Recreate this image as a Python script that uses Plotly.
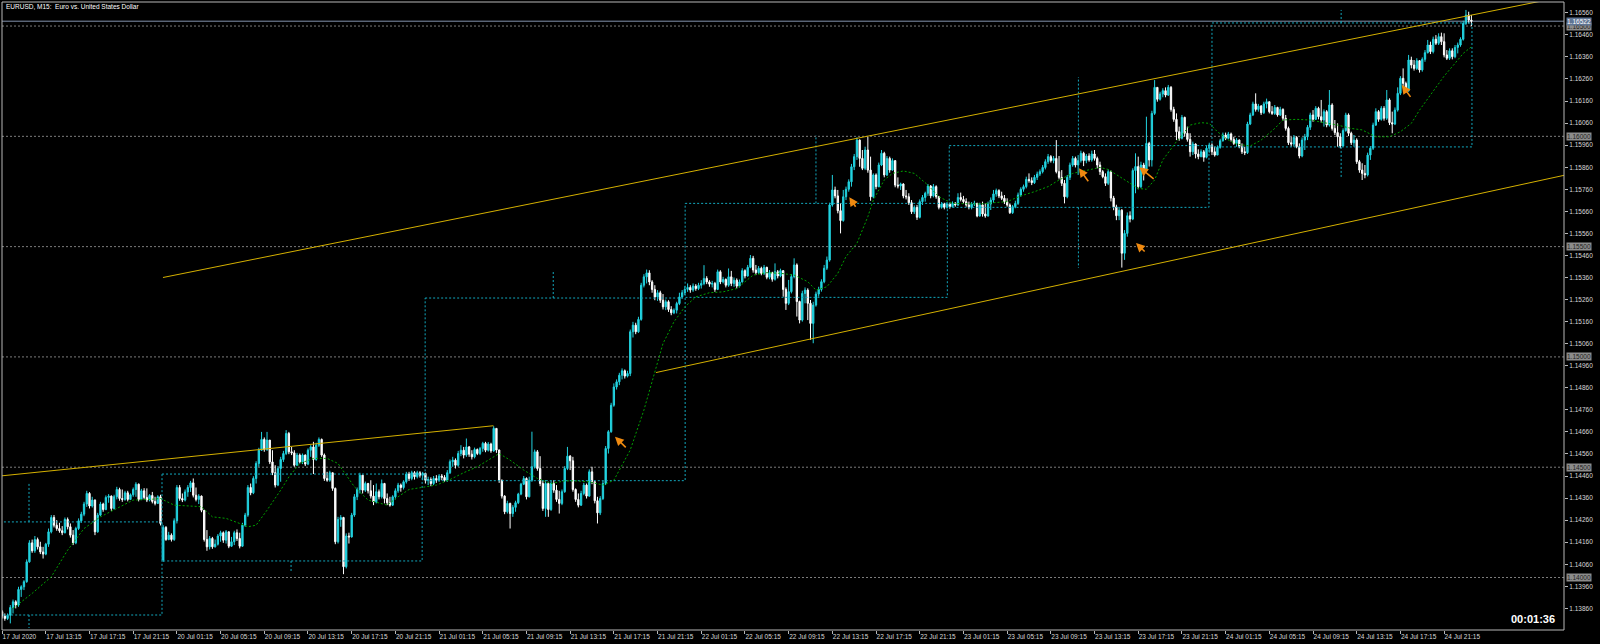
import plotly.graph_objects as go

symbol_title = "EURUSD, M15:  Euro vs. United States Dollar"
timer_text = "00:01:36"

# Prices are stored in points (0.00001) above 1.10000; one entry per M15 bar,
# bar 0 = 17 Jul 2020 09:15, last bar = 24 Jul 23:45.
first_open_pts = 3845
gap_open_pts = {59: 4079}   # Monday open gap

close_pts = [
 3825,3814,3829,3864,3890,3875,3946,3958,3981,4071,4157,4121,4172,4139,4116,4106,4151,4207,4272,4237,
 4222,4212,4203,4263,4230,4192,4157,4222,4257,4287,4333,4381,4324,4351,4207,4283,4333,4308,4363,4369,
 4313,4366,4399,4358,4354,4384,4354,4375,4399,4423,4354,4393,4363,4351,4372,4345,4336,4366,4245,4227,
 4172,4192,4172,4257,4408,4358,4351,4388,4408,4429,4373,4354,4369,4305,4172,4139,4177,4139,4151,4188,
 4203,4169,4207,4142,4162,4203,4177,4142,4237,4283,4408,4384,4449,4517,4577,4626,4580,4623,4524,4475,
 4419,4494,4535,4562,4653,4570,4565,4509,4555,4524,4555,4514,4577,4592,4535,4600,4626,4555,4449,4441,
 4475,4404,4162,4263,4272,4049,4188,4184,4283,4366,4399,4464,4396,4426,4393,4369,4343,4389,4366,4426,
 4358,4339,4328,4366,4393,4419,4408,4434,4469,4449,4475,4457,4475,4464,4472,4441,4444,4426,4449,4441,
 4460,4454,4441,4475,4525,4532,4509,4562,4577,4555,4592,4559,4547,4580,4562,4585,4608,4577,4605,4574,
 4676,4578,4441,4369,4298,4336,4290,4318,4339,4378,4423,4449,4366,4441,4502,4570,4494,4426,4313,4426,
 4308,4426,4396,4354,4336,4389,4494,4550,4529,4399,4354,4328,4381,4419,4369,4479,4434,4348,4293,4358,
 4426,4585,4661,4781,4864,4887,4917,4937,4913,4925,5114,5144,5114,5170,5325,5363,5381,5340,5306,5272,
 5291,5257,5227,5250,5215,5200,5212,5242,5272,5291,5306,5315,5303,5321,5310,5325,5333,5356,5340,5330,
 5333,5306,5386,5340,5351,5325,5363,5333,5348,5321,5340,5391,5367,5406,5447,5394,5382,5402,5379,5406,
 5361,5382,5352,5386,5367,5391,5306,5243,5296,5364,5417,5251,5167,5288,5303,5243,5152,5235,5285,5306,
 5341,5402,5439,5689,5757,5730,5663,5618,5726,5760,5794,5862,5908,5983,5900,5855,5938,5847,5726,5825,
 5772,5870,5923,5825,5900,5847,5890,5779,5775,5784,5730,5726,5699,5658,5678,5633,5704,5723,5742,5775,
 5730,5772,5726,5678,5693,5678,5693,5681,5696,5689,5723,5714,5704,5689,5678,5693,5696,5639,5689,5648,
 5639,5693,5711,5739,5754,5730,5719,5704,5689,5654,5681,5696,5734,5760,5772,5805,5799,5790,5814,5829,
 5840,5859,5885,5908,5890,5900,5840,5814,5787,5726,5814,5870,5900,5870,5890,5923,5890,5911,5893,5920,
 5900,5870,5840,5817,5787,5840,5720,5680,5640,5665,5470,5560,5640,5625,5845,5863,5772,5870,5845,5968,
 5893,6104,6222,6168,6192,6207,6187,6222,6122,6077,6021,5991,6086,6014,5986,5930,5965,5920,5908,5930,
 5905,5946,5961,5930,5915,5950,5980,6006,5991,6011,5986,5968,5983,5953,5930,5926,6056,6097,6147,6122,
 6137,6107,6147,6157,6112,6104,6131,6097,6122,6082,6036,5971,5965,5995,5953,5911,5983,5998,6041,6097,
 6077,6127,6089,6074,6112,6051,6142,6036,6017,5998,5956,6026,6097,6014,5971,5983,5885,5847,5832,5825,
 5915,5946,6051,6112,6077,6127,6082,6165,6062,6056,6119,6195,6263,6240,6207,6346,6323,6308,6343,6301,
 6349,6379,6414,6384,6440,6422,6452,6429,6369,6354,6388,6361,6403,6414,6440,6512,6550,6527,6522]

high_pts = [
 3852,3837,3837,3875,3900,3897,3958,3965,3988,4082,4169,4172,4188,4181,4162,4139,4157,4222,4283,4283,
 4260,4248,4233,4272,4272,4245,4215,4230,4268,4298,4343,4393,4387,4366,4354,4293,4343,4339,4372,4378,
 4372,4375,4411,4407,4399,4393,4393,4381,4408,4432,4426,4402,4405,4404,4378,4388,4366,4373,4375,4237,
 4233,4207,4200,4268,4419,4419,4381,4399,4419,4438,4449,4408,4378,4372,4305,4215,4188,4184,4172,4197,
 4212,4209,4215,4209,4184,4212,4218,4203,4248,4293,4419,4426,4459,4527,4588,4660,4635,4660,4623,4577,
 4509,4505,4547,4574,4668,4660,4592,4577,4565,4562,4562,4558,4585,4600,4615,4611,4635,4630,4562,4479,
 4484,4469,4408,4275,4283,4275,4200,4203,4293,4378,4408,4475,4456,4435,4429,4441,4419,4426,4399,4444,
 4429,4381,4366,4373,4404,4429,4426,4441,4479,4479,4484,4482,4484,4482,4479,4475,4457,4454,4460,4464,
 4469,4469,4464,4487,4535,4547,4540,4574,4600,4592,4630,4596,4577,4589,4585,4592,4615,4615,4614,4611,
 4686,4676,4580,4444,4373,4348,4339,4328,4348,4384,4429,4460,4454,4457,4661,4580,4578,4550,4438,4441,
 4434,4438,4441,4419,4393,4399,4505,4592,4555,4547,4404,4381,4393,4429,4426,4490,4502,4438,4366,4369,
 4438,4596,4668,4792,4880,4898,4928,4948,4943,4937,5124,5159,5155,5182,5336,5375,5396,5393,5348,5325,
 5303,5300,5285,5260,5257,5230,5220,5250,5291,5303,5321,5333,5325,5333,5330,5336,5348,5416,5366,5348,
 5345,5340,5396,5393,5363,5356,5401,5390,5360,5356,5351,5402,5397,5417,5462,5458,5417,5412,5409,5417,
 5409,5394,5386,5424,5394,5400,5394,5315,5349,5376,5447,5424,5255,5300,5315,5311,5258,5250,5296,5318,
 5352,5417,5455,5699,5825,5772,5757,5696,5757,5772,5805,5875,5920,5995,5986,5938,5953,5998,5908,5832,
 5832,5881,5938,5930,5911,5908,5900,5890,5814,5790,5787,5757,5742,5711,5687,5689,5714,5734,5749,5784,
 5779,5784,5778,5730,5702,5699,5702,5699,5705,5702,5742,5745,5730,5719,5704,5702,5708,5699,5699,5704,
 5696,5704,5723,5757,5763,5760,5749,5734,5719,5696,5689,5708,5745,5769,5781,5817,5832,5814,5825,5840,
 5850,5870,5896,5920,5915,5911,5983,5911,5847,5802,5825,5881,5911,5908,5915,5935,5930,5920,5923,5935,
 5938,5908,5885,5847,5832,5850,5845,5730,5690,5680,5670,5575,5655,5660,5855,5923,5908,5885,5880,6089,
 5975,6116,6255,6222,6202,6218,6222,6233,6228,6134,6104,6044,6097,6089,6044,6014,5976,5968,5941,5941,
 5938,5956,5971,5968,5953,5959,5989,6017,6017,6020,6017,5998,5992,5986,5968,5953,6066,6107,6157,6195,
 6147,6142,6157,6171,6157,6137,6142,6134,6134,6127,6097,6044,5998,6006,6001,5968,5995,6011,6051,6107,
 6119,6137,6134,6165,6122,6119,6210,6150,6074,6059,6014,6036,6107,6104,6021,6006,5991,5893,5878,5870,
 5926,5956,6062,6127,6119,6137,6137,6210,6172,6112,6131,6222,6273,6308,6248,6369,6361,6346,6354,6346,
 6358,6391,6437,6429,6452,6459,6467,6470,6467,6391,6399,6399,6414,6425,6449,6524,6573,6565,6550]

low_pts = [
 3814,3804,3807,3792,3837,3860,3867,3912,3943,3976,4067,4112,4112,4127,4106,4086,4101,4139,4200,4227,
 4212,4203,4192,4200,4218,4181,4147,4151,4215,4248,4278,4320,4313,4317,4192,4203,4278,4298,4305,4339,
 4302,4308,4354,4348,4343,4348,4345,4351,4366,4366,4345,4351,4354,4342,4345,4336,4327,4333,4236,4071,
 4166,4169,4163,4166,4245,4348,4342,4345,4366,4388,4363,4345,4333,4296,4163,4121,4127,4130,4136,4145,
 4162,4157,4154,4133,4139,4147,4166,4132,4139,4230,4275,4373,4378,4426,4502,4574,4570,4574,4514,4464,
 4408,4414,4434,4524,4555,4559,4555,4502,4505,4517,4514,4505,4509,4547,4469,4529,4592,4547,4438,4434,
 4434,4393,4151,4154,4230,4015,4041,4154,4181,4275,4351,4381,4381,4388,4381,4358,4328,4336,4354,4358,
 4336,4328,4321,4324,4354,4384,4389,4399,4426,4438,4441,4444,4449,4453,4441,4426,4419,4414,4419,4429,
 4434,4441,4434,4434,4469,4502,4494,4502,4550,4540,4547,4547,4535,4540,4555,4555,4570,4568,4571,4565,
 4570,4565,4429,4358,4287,4290,4222,4275,4298,4333,4373,4419,4354,4363,4434,4494,4484,4414,4302,4275,
 4275,4302,4384,4343,4290,4328,4384,4487,4487,4389,4343,4318,4324,4373,4358,4366,4423,4336,4245,4283,
 4351,4419,4562,4656,4774,4852,4872,4898,4902,4907,4913,5088,5103,5109,5164,5315,5333,5325,5291,5257,
 5254,5245,5215,5212,5204,5189,5194,5197,5235,5265,5280,5295,5291,5295,5300,5303,5310,5325,5330,5318,
 5315,5295,5303,5330,5333,5315,5318,5321,5318,5310,5315,5337,5356,5364,5402,5382,5371,5376,5370,5371,
 5352,5352,5341,5346,5356,5361,5273,5213,5235,5288,5356,5183,5152,5160,5243,5167,5077,5062,5228,5273,
 5296,5334,5394,5432,5681,5719,5651,5560,5613,5711,5749,5772,5847,5893,5862,5847,5847,5835,5708,5719,
 5760,5769,5865,5814,5820,5835,5844,5769,5764,5757,5719,5714,5689,5648,5648,5621,5628,5689,5704,5730,
 5719,5723,5717,5669,5672,5669,5672,5672,5678,5681,5684,5705,5696,5681,5669,5669,5684,5633,5636,5636,
 5631,5636,5666,5699,5726,5720,5711,5693,5681,5648,5648,5674,5689,5726,5749,5764,5790,5779,5784,5802,
 5820,5832,5850,5875,5881,5878,5832,5805,5775,5696,5719,5802,5862,5859,5825,5881,5865,5878,5885,5885,
 5890,5855,5825,5810,5775,5779,5705,5665,5620,5620,5405,5440,5545,5610,5620,5742,5760,5765,5800,5840,
 5863,5863,6097,6157,6162,6177,6177,6183,6112,6066,5983,5980,5986,5998,5976,5908,5915,5900,5896,5905,
 5885,5900,5926,5915,5908,5915,5944,5976,5983,5986,5976,5961,5953,5946,5920,5915,5920,6051,6092,6112,
 6112,6097,6101,6127,6104,6097,6097,6089,6092,6071,6026,5961,5953,5953,5946,5900,5905,5938,5983,6029,
 6066,6074,6077,6062,6044,6041,6044,6026,6006,5953,5946,5953,6021,6001,5961,5953,5875,5835,5802,5810,
 5818,5893,5938,6047,6066,6071,6071,6074,6051,6014,6051,6112,6187,6228,6198,6202,6308,6298,6301,6289,
 6293,6338,6376,6373,6376,6414,6414,6414,6358,6346,6346,6349,6354,6376,6406,6434,6505,6512,6500]

# moving average (green dotted), read at sample bars
ma_bars = [4,11,18,24,30,36,42,48,54,58,63,68,73,77,82,87,90,93,97,102,
           105,109,114,119,123,129,134,141,145,149,154,159,164,169,174,179,182,186,191,196,
           201,206,210,215,220,224,230,235,239,242,246,250,254,259,264,269,275,280,285,290,
           295,298,302,306,309,313,317,319,323,326,330,334,339,343,348,353,358,363,368,373,
           378,383,387,392,397,402,405,411,416,419,422,425,430,435,439,442,445,449,452,457,
           461,466,469,474,479,484,489,494,498,503,508,512,516,519,523,528,532,535,538]
ma_pts = [3860,3928,4003,4124,4222,4275,4313,4351,4354,4358,4328,4324,4321,4275,4268,4245,4230,4237,4305,4396,
          4456,4517,4540,4540,4517,4411,4351,4328,4366,4399,4408,4419,4444,4475,4502,4540,4562,4532,4487,4449,
          4426,4438,4438,4434,4419,4441,4578,4759,4925,5061,5159,5227,5272,5291,5295,5310,5371,5382,5379,5371,
          5341,5303,5318,5379,5455,5515,5636,5711,5802,5832,5843,5832,5779,5726,5696,5693,5693,5699,5704,5730,
          5749,5772,5802,5832,5847,5859,5850,5802,5764,5760,5802,5893,5976,6051,6062,6059,6021,5983,5965,5956,
          5983,6036,6074,6077,6074,6062,6051,6036,6029,5998,5998,6021,6059,6119,6187,6273,6331,6376,6406]

# daily range boxes (cyan dotted)
box_start = [-0.8, 58.55, 154.9, 250.1, 346.8, 443.0]
box_end = [58.55, 153.8, 250.1, 346.1, 441.9, 538.2]
box_top = [1.14252, 1.14469, 1.15267, 1.15696, 1.15958, 1.16514]
box_bottom = [1.13830, 1.14075, 1.14439, 1.15270, 1.15678, 1.15952]
tick_bar = [9.85, 9.85, 105.8, 201.8, 298.0, 394.1, 394.1, 490.3, 490.3]
tick_from = [1.14252, 1.13830, 1.14075, 1.15267, 1.15696, 1.15958, 1.15678, 1.16514, 1.15952]
tick_to = [1.14429, 1.13771, 1.14021, 1.15394, 1.16006, 1.16269, 1.15403, 1.16573, 1.15816]

# trend lines (bar, price) pairs
trend_lines = [
    ((58.9, 1.15360), (563.5, 1.16613)),
    ((239.4, 1.14929), (580.0, 1.15845)),
    ((-0.8, 1.14460), (179.9, 1.14688)),
]

# orange arrows: head (bar, price) and tail (bar, price)
arrow_head = [(224.4, 1.14638), (310.2, 1.15724), (394.3, 1.15855), (416.4, 1.15860), (512.5, 1.16233), (415.2, 1.15516)]
arrow_tail = [(228.9, 1.14583), (312.9, 1.15674), (398.1, 1.15790), (422.2, 1.15802), (516.1, 1.16172), (418.9, 1.15471)]

round_levels = [1.14000, 1.14500, 1.15000, 1.15500, 1.16000, 1.16500]
bid_price = 1.16522

price_tick_labels = ["1.13860","1.13960","1.14060","1.14160","1.14260","1.14360","1.14460","1.14560",
                     "1.14660","1.14760","1.14860","1.14960","1.15060","1.15160","1.15260","1.15360",
                     "1.15460","1.15560","1.15660","1.15760","1.15860","1.15960","1.16060","1.16160",
                     "1.16260","1.16360","1.16460","1.16560"]

time_label_bars = [0,16,32,48,64,80,96,112,128,144,160,176,192,208,224,240,256,272,288,304,320,336,
                   352,368,384,400,416,432,448,464,480,496,512,528]
time_labels = ["17 Jul 2020","17 Jul 13:15","17 Jul 17:15","17 Jul 21:15",
               "20 Jul 01:15","20 Jul 05:15","20 Jul 09:15","20 Jul 13:15","20 Jul 17:15","20 Jul 21:15",
               "21 Jul 01:15","21 Jul 05:15","21 Jul 09:15","21 Jul 13:15","21 Jul 17:15","21 Jul 21:15",
               "22 Jul 01:15","22 Jul 05:15","22 Jul 09:15","22 Jul 13:15","22 Jul 17:15","22 Jul 21:15",
               "23 Jul 01:15","23 Jul 05:15","23 Jul 09:15","23 Jul 13:15","23 Jul 17:15","23 Jul 21:15",
               "24 Jul 01:15","24 Jul 05:15","24 Jul 09:15","24 Jul 13:15","24 Jul 17:15","24 Jul 21:15"]

# ---------------------------------------------------------------------------
def to_price(v):
    return round(1.1 + v / 1e5, 5)

n = len(close_pts)
bars = list(range(n))
open_pts = []
for i in range(n):
    if i == 0:
        open_pts.append(first_open_pts)
    elif i in gap_open_pts:
        open_pts.append(gap_open_pts[i])
    else:
        open_pts.append(close_pts[i - 1])

opens = [to_price(v) for v in open_pts]
closes = [to_price(v) for v in close_pts]
highs = [to_price(max(h, o, c)) for h, o, c in zip(high_pts, open_pts, close_pts)]
lows = [to_price(min(l, o, c)) for l, o, c in zip(low_pts, open_pts, close_pts)]

CYAN_CANDLE = "#22D3E0"
BOX_CYAN = "#12A8BE"
GOLD = "#D4B000"
FONT = "Liberation Sans, Arial, sans-serif"
AXIS_TXT = "#D8D8D8"
SMALL = 6.5

fig = go.Figure()

# round price levels and bid line
shapes = []
for lv in round_levels:
    shapes.append(dict(type="line", xref="paper", x0=0, x1=1, yref="y", y0=lv, y1=lv,
                       line=dict(color="#7C7C7C", width=1, dash="2px,2px"), layer="below"))
shapes.append(dict(type="line", xref="paper", x0=0, x1=1, yref="y", y0=bid_price, y1=bid_price,
                   line=dict(color="#8393AD", width=1), layer="below"))
shapes.append(dict(type="rect", xref="paper", yref="paper", x0=0, x1=1, y0=0, y1=1,
                   line=dict(color="#B8B8B8", width=1)))

# daily boxes
bx, by = [], []
for s, e, t, b in zip(box_start, box_end, box_top, box_bottom):
    bx += [s, e, e, s, s, None]
    by += [t, t, b, b, t, None]
for xb, f, t in zip(tick_bar, tick_from, tick_to):
    bx += [xb, xb, None]
    by += [f, t, None]
fig.add_trace(go.Scatter(x=bx, y=by, mode="lines", line=dict(color=BOX_CYAN, width=1, dash="2px,2px"),
                         hoverinfo="skip", showlegend=False))

# trend lines
for (x0, y0), (x1, y1) in trend_lines:
    fig.add_trace(go.Scatter(x=[x0, x1], y=[y0, y1], mode="lines", line=dict(color=GOLD, width=1),
                             hoverinfo="skip", showlegend=False))

# moving average
fig.add_trace(go.Scatter(x=ma_bars, y=[to_price(v) for v in ma_pts], mode="lines",
                         line=dict(color="#00A000", width=1, dash="2px,2px"),
                         hoverinfo="skip", showlegend=False))

# candles
fig.add_trace(go.Candlestick(
    x=bars, open=opens, high=highs, low=lows, close=closes,
    increasing=dict(line=dict(color=CYAN_CANDLE, width=1), fillcolor=CYAN_CANDLE),
    decreasing=dict(line=dict(color="#FFFFFF", width=1), fillcolor="#FFFFFF"),
    whiskerwidth=0, showlegend=False, hoverinfo="skip"))

annotations = []
for (hx, hy), (tx, ty) in zip(arrow_head, arrow_tail):
    annotations.append(dict(x=hx, y=hy, ax=tx, ay=ty, xref="x", yref="y", axref="x", ayref="y",
                            text="", showarrow=True, arrowhead=2, arrowsize=1.1, arrowwidth=1.6,
                            arrowcolor="#F08A10", standoff=0, startstandoff=0))

# boxed price labels on the scale
for lv in round_levels:
    annotations.append(dict(xref="paper", x=1, xanchor="left", xshift=2, yref="y", y=lv,
                            text="%.5f" % lv, showarrow=False, bgcolor="#8C8C8C", borderpad=0,
                            font=dict(family=FONT, size=SMALL, color="#1E1E1E")))
annotations.append(dict(xref="paper", x=1, xanchor="left", xshift=2, yref="y", y=bid_price,
                        text="%.5f" % bid_price, showarrow=False, bgcolor="#5F7594", borderpad=0,
                        font=dict(family=FONT, size=SMALL, color="#FFFFFF")))

annotations.append(dict(xref="paper", yref="paper", x=0.0013, y=0.9925, xanchor="left", yanchor="middle",
                        text=symbol_title, showarrow=False, font=dict(family=FONT, size=SMALL, color="#FFFFFF")))
annotations.append(dict(xref="paper", yref="paper", x=0.9955, y=0.0176, xanchor="right", yanchor="middle",
                        text="<b>%s</b>" % timer_text, showarrow=False,
                        font=dict(family=FONT, size=11, color="#FFFFFF")))

fig.update_layout(
    width=1600, height=644,
    margin=dict(l=2, r=36, t=2, b=14),
    paper_bgcolor="#000000", plot_bgcolor="#000000",
    shapes=shapes, annotations=annotations,
    showlegend=False,
    xaxis=dict(range=[-0.04, 571.9], showgrid=False, zeroline=False, rangeslider=dict(visible=False),
               tickmode="array", tickvals=time_label_bars, ticktext=time_labels, tickangle=0,
               ticks="outside", ticklen=3, tickcolor="#B8B8B8", ticklabelposition="outside right",
               tickfont=dict(family=FONT, size=SMALL, color=AXIS_TXT), showline=False, fixedrange=True,
               automargin=False),
    yaxis=dict(range=[1.13762, 1.16609], side="right", showgrid=False, zeroline=False,
               tickmode="array", tickvals=[float(t) for t in price_tick_labels], ticktext=price_tick_labels,
               ticks="outside", ticklen=3, tickcolor="#B8B8B8",
               tickfont=dict(family=FONT, size=SMALL, color=AXIS_TXT), showline=False, fixedrange=True,
               automargin=False),
)

fig.write_html("out.html", config={"displayModeBar": False, "staticPlot": True},
               post_script="document.body.style.margin='0';document.body.style.overflow='hidden';")
